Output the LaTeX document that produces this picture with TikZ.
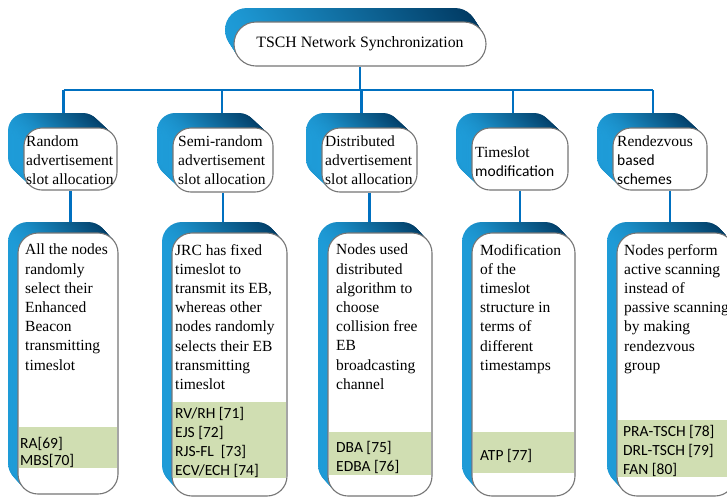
\documentclass[tikz,border=0pt]{standalone}
\usepackage{fontspec}
\setmainfont{Liberation Serif}
\newfontfamily\calib{Carlito}
\pgfdeclarelayer{paper}
\pgfdeclarelayer{bg}
\pgfsetlayers{paper,bg,main}

\definecolor{linkblue}{RGB}{0,112,192}
\definecolor{blueA}{RGB}{30,155,215}
\definecolor{blueB}{RGB}{0,105,165}
\definecolor{blueC}{RGB}{0,55,95}
\definecolor{refgreen}{RGB}{208,222,178}
\definecolor{rim}{RGB}{118,118,118}

\tikzset{
  face/.style={draw=rim, line width=1.1pt, fill=white, rounded corners=#1, inner sep=0pt},
  link/.style={draw=linkblue, line width=2.6pt},
  body/.style={font=\rmfamily\fontsize{15.5}{19.2}\selectfont, align=left, anchor=north west, inner sep=0pt},
  headtxt/.style={font=\rmfamily\fontsize{15.5}{18.8}\selectfont, align=left, anchor=north west, inner sep=0pt},
  refs/.style={font=\calib\fontsize{15.5}{19}\selectfont, align=left, anchor=north west, inner sep=0pt},
  band/.style={fill=refgreen},
}

% Extruded box: blue solid stepping back up-left, white rounded face in front.
% #1 name, #2 x1, #3 y1, #4 x2, #5 y2, #6 corner radius, #7 dx, #8 dy
\newcommand\slab[8]{%
  \foreach \i in {14,...,1}{%
    \shade[left color=blueA, middle color=blueB, right color=blueC,
           rounded corners=#6, shift={({#7*\i/14},{#8*\i/14})}]
      (#2,#3) rectangle (#4,#5);
  }
  \node[face=#6, minimum width={(#4-#2)*1pt}, minimum height={(#5-#3)*1pt}]
    (#1) at ({(#2+#4)/2},{(#3+#5)/2}) {};
}

\begin{document}
\begin{tikzpicture}[x=1pt, y=-1pt]
  \useasboundingbox (0,0) rectangle (727,499);
  \clip (0,0) rectangle (727,499);
  \begin{pgfonlayer}{paper}
    \fill[white] (0,0) rectangle (727,499);
  \end{pgfonlayer}
  \coordinate (bus) at (0,90);

  % root
  \slab{root}{234}{22}{486}{66}{22}{-9}{-14}
  \node[font=\rmfamily\fontsize{15.8}{19}\selectfont] (roottxt) at (root) {TSCH Network Synchronization};

  % second level
  \slab{b1}{24}{128}{117}{190}{18}{-16}{-15}
  \slab{b2}{173}{128}{273}{192}{18}{-16}{-15}
  \slab{b3}{322}{128}{417}{192}{18}{-16}{-15}
  \slab{b4}{472}{128}{568}{190}{18}{-16}{-15}
  \slab{b5}{613}{128}{707}{190}{18}{-16}{-15}

  \node[headtxt] (h1) at (26,136) {Random\\advertisement\\slot allocation};
  \node[headtxt] (h2) at (178,136) {Semi-random\\advertisement\\slot allocation};
  \node[headtxt] (h3) at (325,136) {Distributed\\advertisement\\slot allocation};
  \node[headtxt] (h4) at (475,147) {Timeslot\\{\calib modification}};
  \node[headtxt] (h5) at (617,136) {Rendezvous\\{\calib based}\\{\calib schemes}};

  % third level
  \slab{d1}{18}{233}{118}{494}{20}{-10}{-11}
  \slab{d2}{172}{233}{287}{496}{20}{-10}{-11}
  \slab{d3}{328}{233}{432}{496}{20}{-10}{-11}
  \slab{d4}{472}{233}{575}{496}{20}{-10}{-11}
  \slab{d5}{617}{233}{735}{496}{20}{-10}{-11}

  \fill[band] (18.6,427) rectangle (117.4,468);
  \fill[band] (172.6,402) rectangle (286.4,478);
  \fill[band] (328.6,432) rectangle (431.4,475);
  \fill[band] (472.6,432) rectangle (574.4,473);
  \fill[band] (617.6,420) rectangle (734.4,477);

  \node[body] (l1) at (25,244) {All the nodes\\randomly\\select their\\Enhanced\\Beacon\\transmitting\\timeslot};
  \node[body] (l2) at (175,244) {JRC has fixed\\timeslot to\\transmit its EB,\\whereas other\\nodes randomly\\selects their EB\\transmitting\\timeslot};
  \node[body] (l3) at (336,244) {Nodes used\\distributed\\algorithm to\\choose\\collision free\\EB\\broadcasting\\channel};
  \node[body] (l4) at (480,244) {Modification\\of the\\timeslot\\structure in\\terms of\\different\\timestamps};
  \node[body] (l5) at (624,244) {Nodes perform\\active scanning\\instead of\\passive scanning\\by making\\rendezvous\\group};

  \node[refs, font=\calib\fontsize{15.5}{16.6}\selectfont] (r1) at (20,437) {RA[69]\\MBS[70]};
  \node[refs] (r2) at (175,407) {RV/RH [71]\\EJS [72]\\RJS-FL~ [73]\\ECV/ECH [74]};
  \node[refs] (r3) at (336,441) {DBA [75]\\EDBA [76]};
  \node[refs] (r4) at (480,449) {ATP [77]};
  \node[refs] (r5) at (623,425) {PRA-TSCH [78]\\DRL-TSCH [79]\\FAN [80]};

  % connectors, kept behind the boxes
  \begin{pgfonlayer}{bg}
    \draw[link] (root.south) -- (root.south |- bus);
    \draw[link] ([xshift=-7pt]b1.north |- bus) -- ([xshift=-7pt]b5.north |- bus);
    \draw[link] ([xshift=-7pt]b1.north) -- ([xshift=-7pt]b1.north |- bus);
    \draw[link] ([xshift=-1pt]b2.north) -- ([xshift=-1pt]b2.north |- bus);
    \draw[link] ([xshift=-8pt]b3.north) -- ([xshift=-8pt]b3.north |- bus);
    \draw[link] ([xshift=-7pt]b4.north) -- ([xshift=-7pt]b4.north |- bus);
    \draw[link] ([xshift=-7pt]b5.north) -- ([xshift=-7pt]b5.north |- bus);
    \draw[link] (b1.south) -- (b1.south |- d1.north);
    \draw[link] (b2.south) -- (b2.south |- d2.north);
    \draw[link] (b3.south) -- (b3.south |- d3.north);
    \draw[link] (b4.south) -- (b4.south |- d4.north);
    \draw[link] ([xshift=10pt]b5.south) -- ([xshift=10pt]b5.south |- d5.north);
  \end{pgfonlayer}
\end{tikzpicture}
\end{document}
